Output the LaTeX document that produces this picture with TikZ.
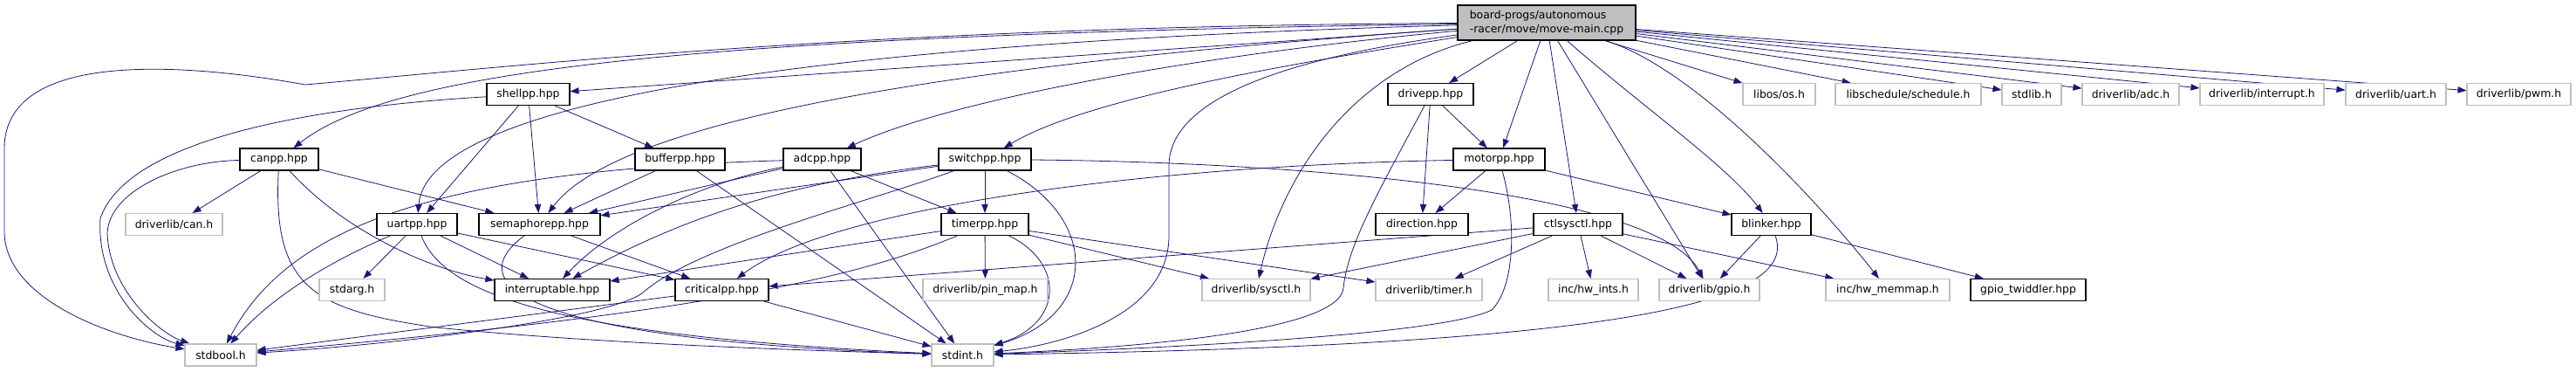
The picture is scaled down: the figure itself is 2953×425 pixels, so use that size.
\documentclass[tikz,border=0pt]{standalone}
\usepackage{fontspec}
\setmainfont{DejaVu Sans}
\usepackage{tikz}
\usetikzlibrary{arrows.meta,positioning,backgrounds}
\definecolor{edgeblue}{HTML}{191970}
\definecolor{sysgray}{HTML}{BFBFBF}
\tikzset{
hdr/.style={draw=black,line width=.8pt,fill=white,minimum height=18.75pt,inner sep=0pt,font=\fontsize{9.3}{11.5}\selectfont},
syshdr/.style={hdr,draw=sysgray},
srcfile/.style={hdr,fill=sysgray,minimum height=30pt,align=left},
wd/.style={minimum width=#1*0.75pt},
dep/.style={draw=edgeblue,line width=.6pt,-{Triangle[length=7.5pt,width=5.5pt]},fill=none}
}
\begin{document}
\begin{tikzpicture}[x=0.75pt,y=-0.75pt]
\useasboundingbox(0,0)rectangle(2953,425);
\node[srcfile,wd=204](main)at(1773,26){board-progs/autonomous\\-racer/move/move-main.cpp};
\node[hdr,wd=95](shellpp)at(605.5,108){shellpp.hpp};
\node[hdr,wd=98](drivepp)at(1640,108){drivepp.hpp};
\node[syshdr,wd=83](libos)at(2039.5,108){libos/os.h};
\node[syshdr,wd=167](schedule)at(2187.5,108){libschedule/schedule.h};
\node[syshdr,wd=68](stdlib)at(2329,108){stdlib.h};
\node[syshdr,wd=111](adch)at(2442.5,108){driverlib/adc.h};
\node[syshdr,wd=142](interrupth)at(2593,108){driverlib/interrupt.h};
\node[syshdr,wd=115](uarth)at(2746.5,108){driverlib/uart.h};
\node[syshdr,wd=119](pwmh)at(2887.5,108){driverlib/pwm.h};
\node[hdr,wd=90](canpp)at(320,182.5){canpp.hpp};
\node[hdr,wd=103](bufferpp)at(779.5,182.5){bufferpp.hpp};
\node[hdr,wd=89](adcpp)at(942.5,182.5){adcpp.hpp};
\node[hdr,wd=106](switchpp)at(1129,182.5){switchpp.hpp};
\node[hdr,wd=105](motorpp)at(1718.5,182.5){motorpp.hpp};
\node[syshdr,wd=111](canh)at(199.5,257){driverlib/can.h};
\node[hdr,wd=92](uartpp)at(478,257){uartpp.hpp};
\node[hdr,wd=139](semaphorepp)at(618.5,257){semaphorepp.hpp};
\node[hdr,wd=100](timerpp)at(1129,257){timerpp.hpp};
\node[hdr,wd=106](direction)at(1630,257){direction.hpp};
\node[hdr,wd=102](ctlsysctl)at(1809,257){ctlsysctl.hpp};
\node[hdr,wd=91](blinker)at(2030.5,257){blinker.hpp};
\node[syshdr,wd=75](stdarg)at(403.5,332){stdarg.h};
\node[hdr,wd=132](interruptable)at(633,332){interruptable.hpp};
\node[hdr,wd=107](criticalpp)at(827.5,332){criticalpp.hpp};
\node[syshdr,wd=143](pinmap)at(1129.5,332){driverlib/pin\_map.h};
\node[syshdr,wd=124](sysctl)at(1440,332){driverlib/sysctl.h};
\node[syshdr,wd=122](timerh)at(1638,332){driverlib/timer.h};
\node[syshdr,wd=103](hwints)at(1826.5,332){inc/hw\_ints.h};
\node[syshdr,wd=115](gpioh)at(1959.5,332){driverlib/gpio.h};
\node[syshdr,wd=142](hwmemmap)at(2164,332){inc/hw\_memmap.h};
\node[hdr,wd=132](twiddler)at(2325,332){gpio\_twiddler.hpp};
\node[syshdr,wd=82](stdbool)at(253,406.5){stdbool.h};
\node[syshdr,wd=71](stdint)at(1103.5,406.5){stdint.h};
\begin{pgfonlayer}{background}
\foreach \a/\b in {main/drivepp,main/motorpp,main/ctlsysctl,main/gpioh,main/libos,main/schedule,main/stdlib,main/adch,main/interrupth,main/uarth,main/pwmh,main/shellpp,
canpp/canh,canpp/semaphorepp,uartpp/stdarg,uartpp/interruptable,uartpp/criticalpp,
shellpp/uartpp,shellpp/semaphorepp,shellpp/bufferpp,semaphorepp/criticalpp,bufferpp/semaphorepp,bufferpp/stdint,
adcpp/semaphorepp,adcpp/timerpp,adcpp/stdint,switchpp/semaphorepp,switchpp/timerpp,
timerpp/pinmap,timerpp/sysctl,timerpp/timerh,timerpp/interruptable,
criticalpp/stdbool,criticalpp/stdint,drivepp/motorpp,drivepp/direction,motorpp/direction,motorpp/blinker,
ctlsysctl/criticalpp,ctlsysctl/sysctl,ctlsysctl/timerh,ctlsysctl/hwints,ctlsysctl/gpioh,ctlsysctl/hwmemmap,
blinker/gpioh,blinker/twiddler}
\draw[dep](\a)--(\b);
\draw[dep](main).. controls(1000,30)and(600,75)..(350,97).. controls(200,70)and(5,60)..(5,170)--(5,265).. controls(5,340)and(120,385)..(stdbool);
\draw[dep](main).. controls(800,40)and(450,80)..(canpp);
\draw[dep](main).. controls(900,50)and(490,120)..(uartpp);
\draw[dep](main).. controls(1000,80)and(700,150)..(semaphorepp);
\draw[dep](main).. controls(1400,60)and(1100,110)..(adcpp);
\draw[dep](main).. controls(1500,70)and(1250,110)..(switchpp);
\draw[dep](main).. controls(1450,70)and(1340,120)..(1340,190)--(1340,270).. controls(1340,360)and(1220,395)..(stdint);
\draw[dep](main).. controls(1550,80)and(1470,200)..(sysctl);
\draw[dep](main).. controls(1880,120)and(1980,190)..(blinker);
\draw[dep](main).. controls(1950,80)and(2100,250)..(hwmemmap);
\draw[dep](canpp).. controls(200,185)and(125,220)..(123,267).. controls(125,330)and(180,380)..(stdbool);
\draw[dep](canpp).. controls(312,330)and(360,355)..(500,375).. controls(700,395)and(950,402)..(stdint);
\draw[dep](canpp).. controls(400,270)and(500,310)..(interruptable);
\draw[dep](uartpp).. controls(400,290)and(320,330)..(stdbool);
\draw[dep](uartpp).. controls(510,340)and(650,385)..(stdint);
\draw[dep](shellpp).. controls(400,120)and(150,150)..(115,250).. controls(110,330)and(170,385)..(stdbool);
\draw[dep](semaphorepp).. controls(520,330)and(620,390)..(stdint);
\draw[dep](adcpp).. controls(800,210)and(700,260)..(interruptable);
\draw[dep](adcpp).. controls(500,195)and(330,260)..(stdbool);
\draw[dep](switchpp).. controls(900,210)and(780,250)..(interruptable);
\draw[dep](switchpp).. controls(1260,250)and(1260,360)..(stdint);
\draw[dep](switchpp).. controls(1500,186)and(1900,220)..(gpioh);
\draw[dep](switchpp).. controls(1000,230)and(800,280)..(737,335).. controls(700,365)and(450,395)..(stdbool);
\draw[dep](timerpp).. controls(1000,310)and(850,355)..(stdbool);
\draw[dep](timerpp).. controls(1220,300)and(1220,370)..(stdint);
\draw[dep](drivepp).. controls(1580,220)and(1545,280)..(1540,330).. controls(1535,380)and(1300,398)..(stdint);
\draw[dep](motorpp).. controls(1740,260)and(1735,330)..(1710,355).. controls(1650,385)and(1300,400)..(stdint);
\draw[dep](motorpp).. controls(1300,190)and(950,240)..(criticalpp);
\draw[dep](blinker).. controls(2060,340)and(1900,395)..(stdint);
\end{pgfonlayer}
\end{tikzpicture}
\end{document}
